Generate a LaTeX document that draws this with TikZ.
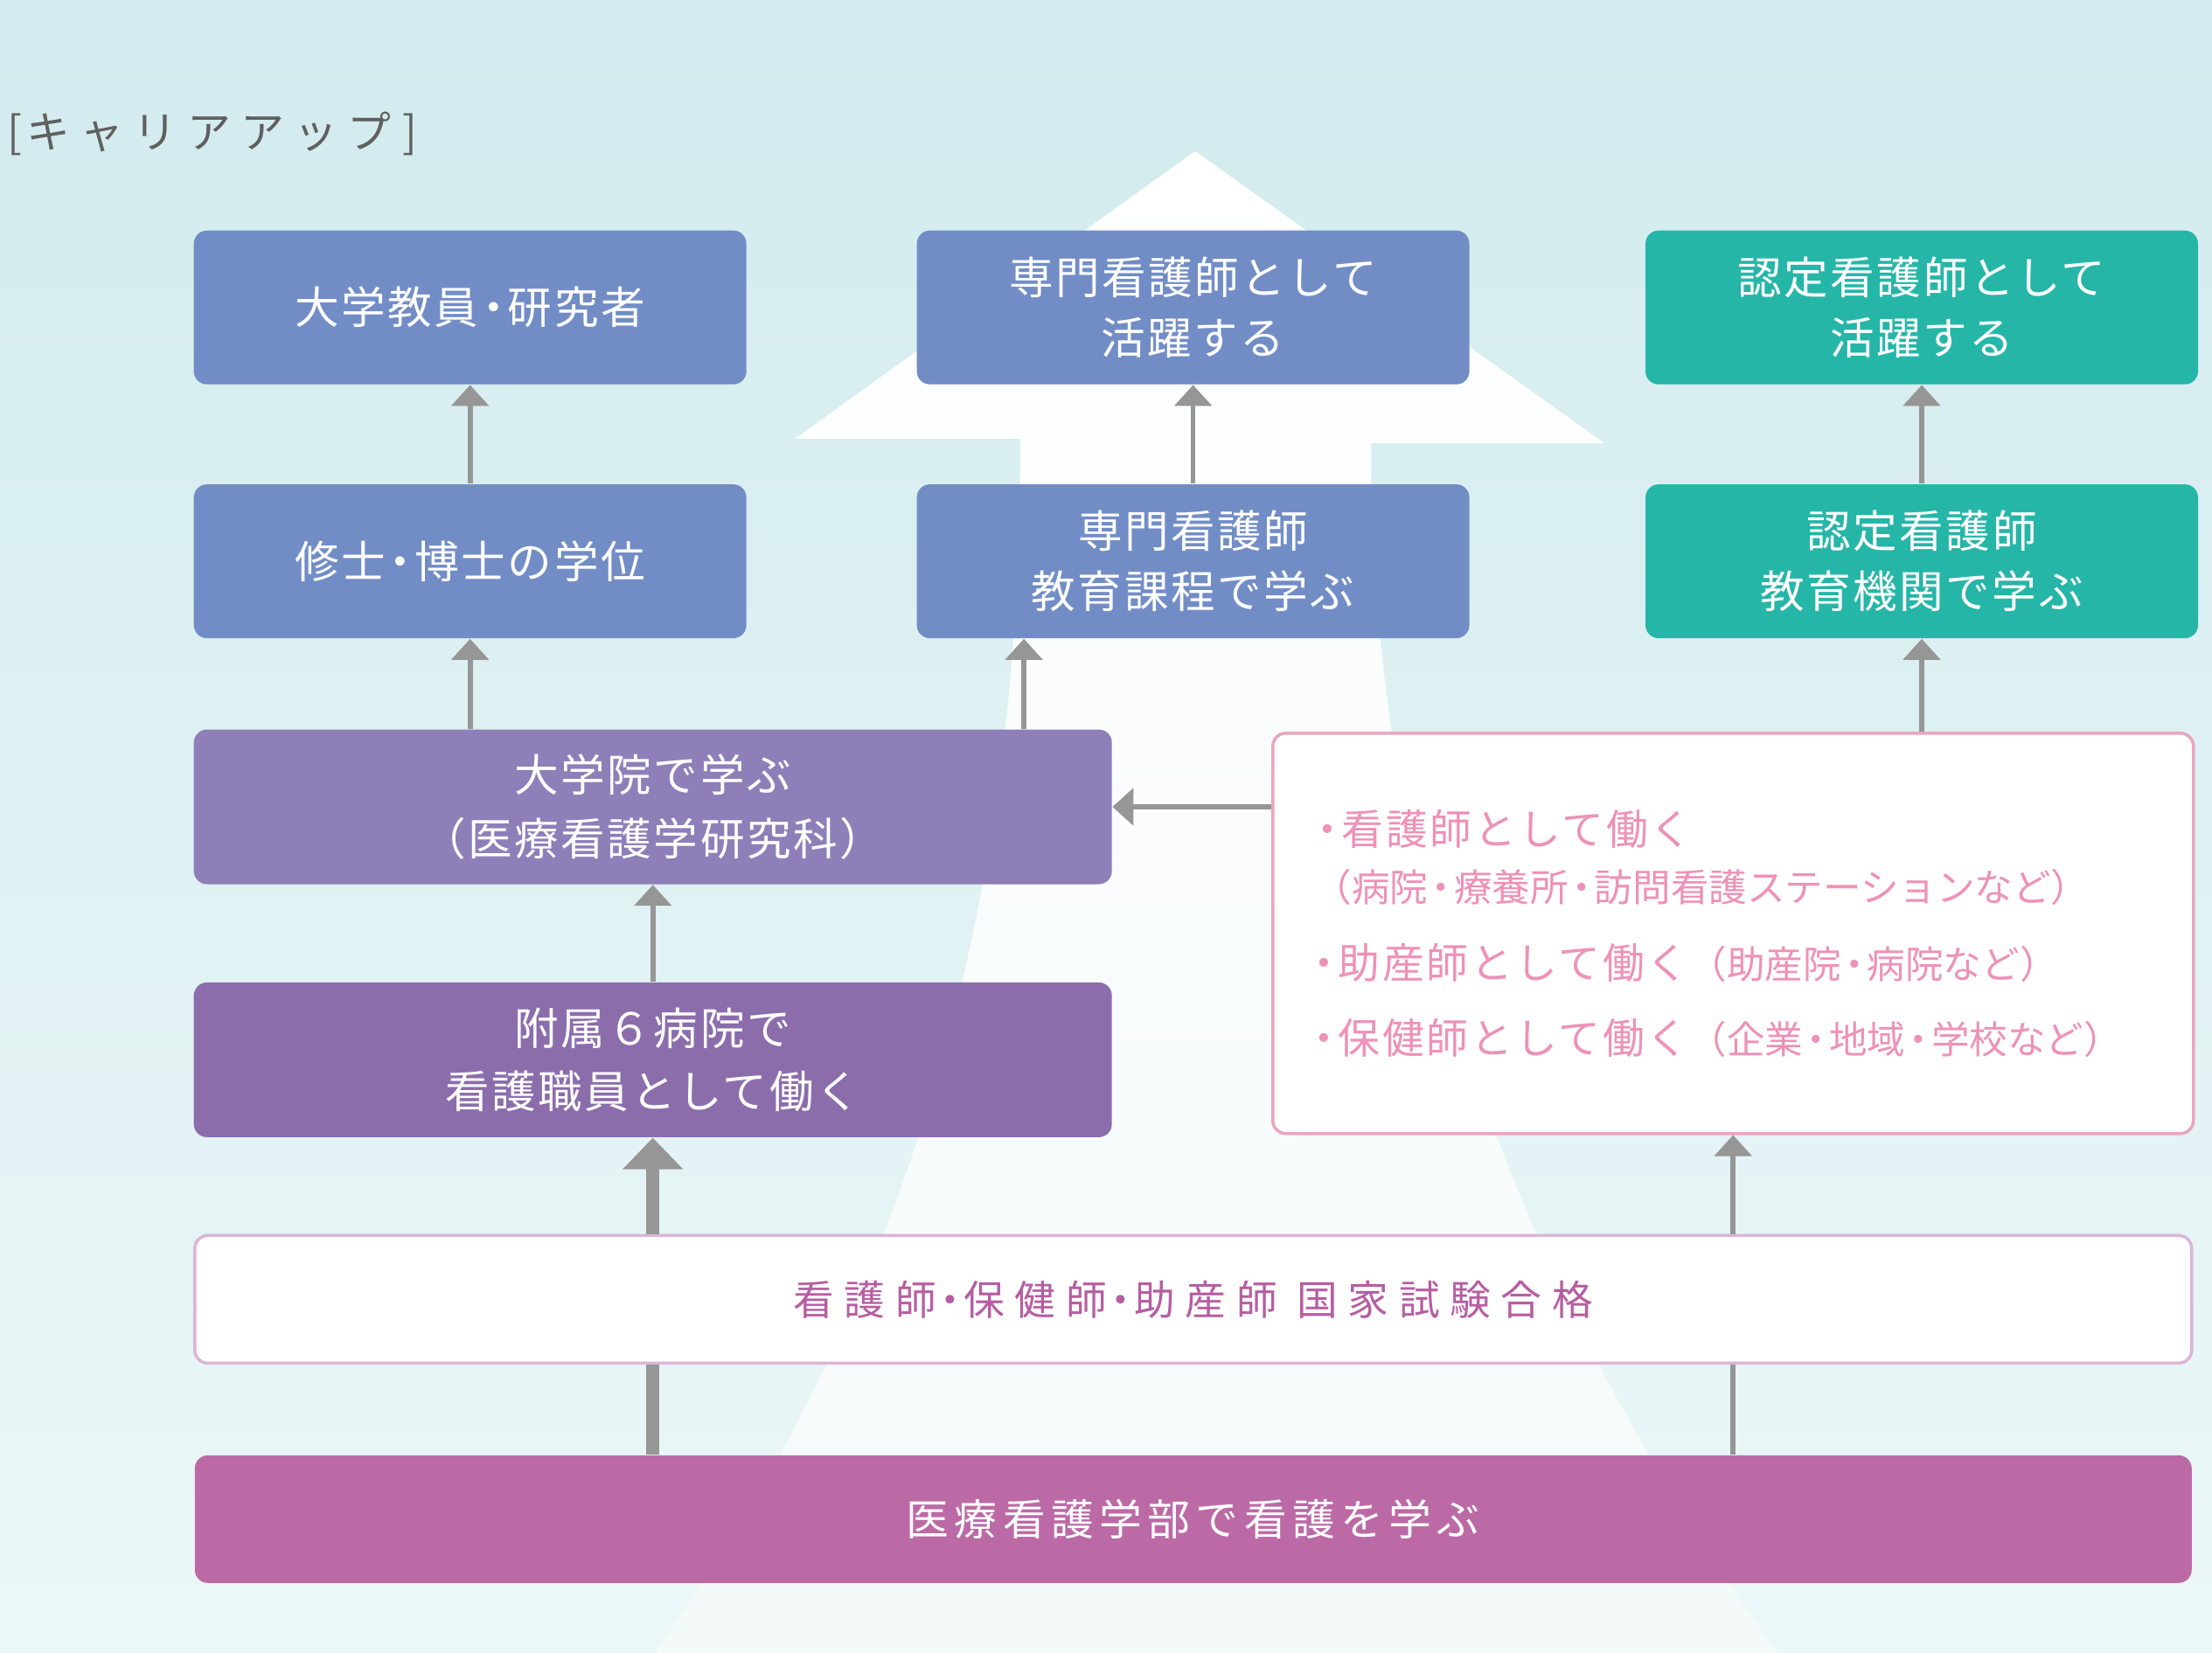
\documentclass[tikz,border=0pt]{standalone}
\usepackage{fontspec}
\setmainfont{Noto Sans CJK JP}
\newfontfamily\paltfont{Noto Sans CJK JP}[RawFeature=+palt]
\usetikzlibrary{positioning, arrows.meta}

\definecolor{bgtop}{RGB}{210,235,238}
\definecolor{bgbottom}{RGB}{236,247,248}
\definecolor{roadend}{RGB}{244,249,250}
\definecolor{cnsblue}{RGB}{114,141,198}
\definecolor{cnteal}{RGB}{38,182,168}
\definecolor{gradpurple}{RGB}{142,127,185}
\definecolor{workpurple}{RGB}{139,109,172}
\definecolor{studymagenta}{RGB}{188,106,166}
\definecolor{examline}{RGB}{220,180,214}
\definecolor{examtext}{RGB}{182,94,162}
\definecolor{jobline}{RGB}{233,166,192}
\definecolor{jobtext}{RGB}{238,145,184}
\definecolor{arrowgray}{RGB}{150,150,150}
\definecolor{titlegray}{RGB}{96,96,96}

\tikzstyle{stage} = [rectangle, rounded corners=0.15cm, text=white, align=center, inner sep=0pt, font=\fontsize{14.4}{19.6}\selectfont\addfontfeatures{LetterSpace=5}]
\tikzstyle{smallstage} = [stage, minimum width=6.32cm, minimum height=1.76cm]
\tikzstyle{widestage} = [stage, minimum width=10.5cm, minimum height=1.77cm, font=\fontsize{14.4}{20.7}\selectfont\addfontfeatures{LetterSpace=5}]
\tikzstyle{fullstage} = [stage, minimum width=22.84cm, minimum height=1.46cm]
\tikzstyle{jobbox} = [rectangle, rounded corners=0.15cm, draw=jobline, line width=1pt, fill=white, text=jobtext, align=left, text width=9.59cm, inner xsep=0.47cm, inner ysep=0pt, minimum width=10.53cm, minimum height=4.58cm, font=\fontsize{13.6}{0.645cm}\selectfont\addfontfeatures{LetterSpace=6}]
\tikzstyle{connector} = [draw=arrowgray, line width=0.056cm, -{Triangle[width=0.42cm, length=0.24cm]}]
\tikzstyle{bigconnector} = [draw=arrowgray, line width=0.154cm, -{Triangle[width=0.67cm, length=0.36cm]}]

\newcommand{\dt}{{\paltfont\kern0.04cm・\kern0.04cm}}
\newcommand{\paren}[1]{{\fontsize{12.4}{0.645cm}\selectfont\addfontfeatures{LetterSpace=0}#1}}

\begin{document}
\begin{tikzpicture}
    \useasboundingbox (0,0) rectangle (25.3,-18.91);
    \shade[top color=bgtop, bottom color=bgbottom] (0,0) rectangle (25.3,-18.91);
    \shade[top color=white, bottom color=roadend] (13.67,-1.73) -- (18.35,-5.07) -- (15.68,-5.07)
        .. controls (15.68,-9.68) and (17.02,-14.30) .. (20.33,-18.91) -- (7.49,-18.91)
        .. controls (10.79,-14.28) and (11.67,-9.65) .. (11.67,-5.02) -- (9.09,-5.02) -- cycle;

    \node[anchor=west, inner sep=0pt, text=titlegray, font=\fontsize{14.2}{17}\selectfont] (title) at (0.08,-1.53)
        {[\kern0.05cm{\addfontfeatures{LetterSpace=22.6}キャリアアップ}\kern0.13cm]};

    \node[smallstage, fill=cnsblue, anchor=north west] (faculty) at (2.21,-2.63) {大学教員\dt 研究者};
    \node[smallstage, fill=cnsblue, right=1.935cm of faculty] (cns) {専門看護師として\\活躍する};
    \node[smallstage, fill=cnteal, right=2.0cm of cns] (cn) {認定看護師として\\活躍する};

    \node[smallstage, fill=cnsblue, below=1.13cm of faculty] (degree) {修士\dt 博士の学位};
    \node[smallstage, fill=cnsblue, below=1.13cm of cns] (cnscourse) {専門看護師\\教育課程で学ぶ};
    \node[smallstage, fill=cnteal, below=1.13cm of cn] (cncourse) {認定看護師\\教育機関で学ぶ};

    \node[widestage, fill=gradpurple, below right=1.03cm and 0cm of degree.south west] (grad) {大学院で学ぶ\\（医療看護学研究科）};
    \node[widestage, fill=workpurple, below=1.11cm of grad] (hospital) {附属６病院で\\看護職員として働く};

    \node[jobbox, anchor=north west] (jobs) at (14.54,-8.37) {\dt 看護師として働く\\
        \paren{（病院\dt 療養所\dt 訪問看護ステーションなど）}\\[0.2cm]
        \dt 助産師として働く\paren{（助産院\dt 病院など）}\\[0.17cm]
        \dt 保健師として働く\paren{（企業\dt 地域\dt 学校など）}};

    \node[fullstage, draw=examline, line width=1pt, fill=white, text=examtext, font=\fontsize{13.3}{17}\selectfont\addfontfeatures{LetterSpace=25}, below right=1.10cm and 0cm of hospital.south west] (exam) {看護師\dt 保健師\dt 助産師 国家試験合格};
    \node[fullstage, fill=studymagenta, font=\fontsize{13.9}{17}\selectfont\addfontfeatures{LetterSpace=13}, below=1.03cm of exam] (study) {医療看護学部で看護を学ぶ};

    \coordinate (gradexit) at ([xshift=-1.935cm]cnscourse.south);

    \draw[connector] (degree) -- (faculty);
    \draw[connector] (cnscourse) -- (cns);
    \draw[connector] (cncourse) -- (cn);
    \draw[connector] (grad.north -| degree.south) -- (degree.south);
    \draw[connector] (grad.north -| gradexit) -- (gradexit);
    \draw[connector] (jobs.north -| cncourse.south) -- (cncourse.south);
    \draw[connector] (jobs.west |- grad.east) -- (grad.east);
    \draw[connector] (hospital) -- (grad);

    \draw[draw=arrowgray, line width=0.154cm] (study.north -| hospital.south) -- (exam.south -| hospital.south);
    \draw[bigconnector] (exam.north -| hospital.south) -- (hospital.south);
    \draw[draw=arrowgray, line width=0.056cm] (study.north -| jobs.south) -- (exam.south -| jobs.south);
    \draw[connector] (exam.north -| jobs.south) -- (jobs.south);
\end{tikzpicture}
\end{document}
